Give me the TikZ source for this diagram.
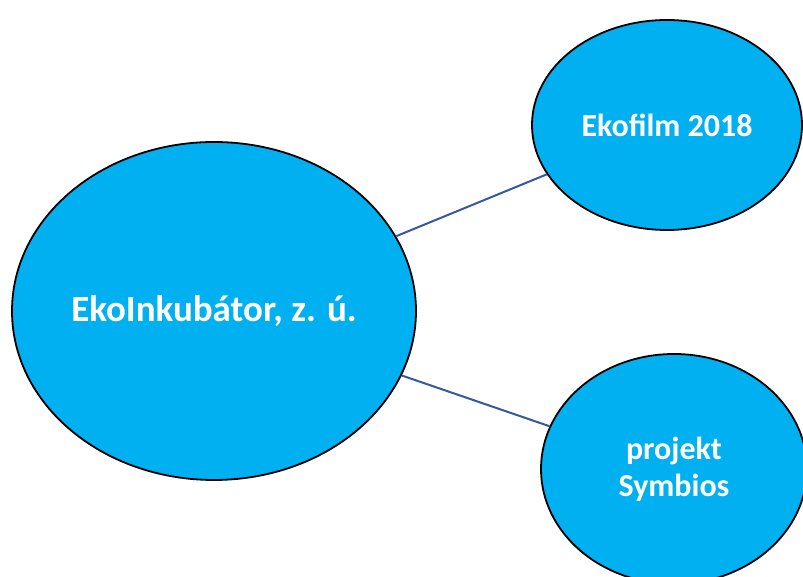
\documentclass[tikz,border=0pt]{standalone}
\usepackage{fontspec}
\setmainfont{Carlito}
\usepackage{xcolor}
\usetikzlibrary{shapes.geometric}
\definecolor{bubble}{HTML}{00B0F0}
\definecolor{link}{HTML}{3558A0}
\tikzset{x=1pt, y=1pt,
         bubble/.style={ellipse, draw=black, line width=1.8pt, fill=bubble,
                        inner sep=0pt, text=white, align=center,
                        font=\bfseries},
         link/.style={draw=link, line width=2pt},
         }

\begin{document}
\begin{tikzpicture}
    \useasboundingbox (0,0) rectangle (803,577);
    \node[bubble, minimum width=404, minimum height=338,
          font=\bfseries\fontsize{37}{44}\selectfont] (inkubator) at (214,266) {EkoInkubátor, z. ú.};
    \node[bubble, minimum width=270, minimum height=210,
          font=\bfseries\fontsize{32}{38}\selectfont] (ekofilm) at (667,452) {Ekofilm 2018};
    \node[bubble, minimum width=266, minimum height=230,
          font=\bfseries\fontsize{32}{37}\selectfont] (symbios) at (674,108) {projekt\\Symbios};

    \draw[link] (inkubator) -- (ekofilm)
                (inkubator) -- (symbios);
\end{tikzpicture}
\end{document}
